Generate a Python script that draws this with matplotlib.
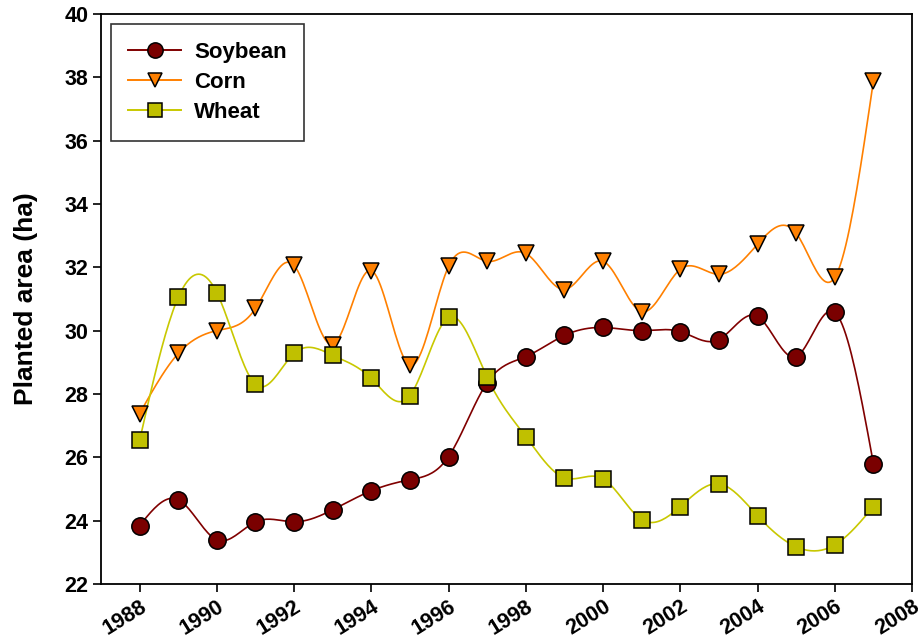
import numpy as np
import matplotlib
matplotlib.use('Agg')
import matplotlib.pyplot as plt

years = list(range(1988, 2008))
soybean = [23.84, 24.66, 23.39, 23.96, 23.96, 24.34, 24.94, 25.29, 26.02, 28.36,
           29.18, 29.85, 30.10, 30.00, 29.97, 29.72, 30.45, 29.18, 30.58, 25.80]
corn = [27.38, 29.28, 30.00, 30.70, 32.06, 29.56, 31.90, 28.90, 32.03, 32.19,
        32.44, 31.30, 32.19, 30.60, 31.94, 31.78, 32.73, 33.08, 31.68, 37.89]
wheat = [26.53, 31.05, 31.20, 28.30, 29.28, 29.22, 28.49, 27.95, 30.42, 28.52,
         26.65, 25.35, 25.32, 24.03, 24.44, 25.16, 24.15, 23.17, 23.23, 24.44]
yticks = list(range(22, 41, 2))
xticks = list(range(1988, 2009, 2))


def smooth(x, y, n=400):
    # natural cubic spline through the points, only for drawing the curve
    x = np.asarray(x, float)
    y = np.asarray(y, float)
    m = len(x)
    h = np.diff(x)
    A = np.zeros((m, m))
    b = np.zeros(m)
    A[0, 0] = A[-1, -1] = 1
    for i in range(1, m - 1):
        A[i, i - 1] = h[i - 1]
        A[i, i] = 2 * (h[i - 1] + h[i])
        A[i, i + 1] = h[i]
        b[i] = 6 * ((y[i + 1] - y[i]) / h[i] - (y[i] - y[i - 1]) / h[i - 1])
    M = np.linalg.solve(A, b)
    xs = np.linspace(x[0], x[-1], n)
    idx = np.clip(np.searchsorted(x, xs) - 1, 0, m - 2)
    x0, x1 = x[idx], x[idx + 1]
    hh = x1 - x0
    t0 = x1 - xs
    t1 = xs - x0
    ys = (M[idx] * t0**3 / (6 * hh) + M[idx + 1] * t1**3 / (6 * hh)
          + (y[idx] / hh - M[idx] * hh / 6) * t0
          + (y[idx + 1] / hh - M[idx + 1] * hh / 6) * t1)
    return xs, ys


plt.rcParams['font.family'] = ['Liberation Sans', 'DejaVu Sans']
plt.rcParams['font.weight'] = 'bold'

fig = plt.figure(figsize=(9.18, 6.43), dpi=100)
ax = fig.add_axes([0.110, 0.092, 0.8835, 0.886])

series = [
    ('Soybean', soybean, '#800000', '#7a0000', 'o', 12.5),
    ('Corn', corn, '#ff8000', '#ff8000', 'v', 12),
    ('Wheat', wheat, '#c8c800', '#c0c000', 's', 11),
]
for name, vals, lc, fc, mk, ms in series:
    xs, ys = smooth(years, vals)
    ax.plot(xs, ys, color=lc, lw=1.2, zorder=2)
    ax.plot(years, vals, ls='none', marker=mk, ms=ms, mfc=fc, mec='black',
            mew=1.1, zorder=3)
    ax.plot([], [], color=lc, lw=1.4, marker=mk, ms=ms, mfc=fc, mec='black',
            mew=1.1, label=name)

ax.set_xlim(1987, 2008)
ax.set_ylim(22, 40)
ax.set_xticks(xticks)
ax.set_yticks(yticks)
ax.set_xticklabels([str(v) for v in xticks], rotation=32, ha='right',
                   rotation_mode='anchor', fontsize=15.5, fontweight='bold')
ax.set_yticklabels([str(v) for v in yticks], fontsize=15.5, fontweight='bold')
ax.tick_params(direction='out', length=6, width=1.2, colors='black', pad=3)
for s in ax.spines.values():
    s.set_linewidth(1.3)
ax.set_ylabel('Planted area (ha)', fontsize=19, fontweight='bold')
ax.yaxis.set_label_coords(-0.078, 0.5)

leg = ax.legend(loc='upper left', bbox_to_anchor=(0.012, 0.982), fontsize=16,
                frameon=True, fancybox=False, edgecolor='black',
                borderaxespad=0, borderpad=0.8, handlelength=2.35,
                labelspacing=0.4, handletextpad=0.6, markerscale=0.88)
leg.get_frame().set_linewidth(1.2)
for t in leg.get_texts():
    t.set_fontweight('bold')

fig.savefig('out.png', dpi=100)
